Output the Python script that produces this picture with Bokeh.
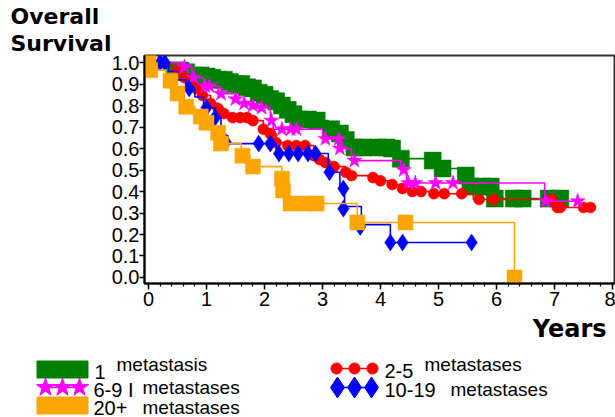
from bokeh.plotting import figure
from bokeh.models import Range1d, Title, FixedTicker, PrintfTickFormatter
from bokeh.layouts import column
from bokeh.embed import file_html
from bokeh.resources import INLINE
from bokeh.core.properties import value

# ---------------- data ----------------
# step curves: time (years) at which survival changes, survival after that time
g_t = [0, 0.4, 0.62, 0.75, 0.97, 1.07, 1.17, 1.37, 1.47, 1.65, 1.75, 1.85, 1.95, 2.05, 2.15,
       2.25, 2.35, 2.45, 2.55, 2.85, 3.1, 3.25, 3.35, 3.5, 4.15, 4.3, 4.85, 5.02, 5.42, 5.52, 5.95]
g_s = [1.0, 0.963, 0.955, 0.94, 0.935, 0.93, 0.92, 0.91, 0.90, 0.885, 0.88, 0.86, 0.85, 0.83, 0.82,
       0.80, 0.78, 0.76, 0.735, 0.73, 0.69, 0.67, 0.64, 0.605, 0.60, 0.553, 0.544, 0.507, 0.474, 0.423, 0.367]
g_end = 7.2
g_mt = [0.45, 0.55, 0.65, 0.8, 0.9, 1.0, 1.1, 1.2, 1.3, 1.4, 1.5, 1.6, 1.7, 1.8, 1.9, 2.0, 2.1, 2.2,
        2.3, 2.4, 2.5, 2.6, 2.75, 2.9, 3.15, 3.3, 3.4, 3.55, 3.7, 3.95, 4.1, 4.2, 4.35, 4.9, 5.07,
        5.47, 5.55, 5.75, 5.9, 5.97, 6.3, 6.45, 6.9, 7.1]
g_ms = [0.963, 0.963, 0.955, 0.94, 0.94, 0.935, 0.93, 0.92, 0.92, 0.91, 0.90, 0.90, 0.885, 0.88, 0.86,
        0.85, 0.83, 0.82, 0.80, 0.78, 0.76, 0.735, 0.735, 0.73, 0.69, 0.67, 0.64, 0.605, 0.605, 0.605,
        0.605, 0.60, 0.553, 0.544, 0.507, 0.474, 0.423, 0.423, 0.423, 0.367, 0.367, 0.367, 0.367, 0.367]

r_t = [0, 0.35, 0.45, 0.6, 0.7, 0.8, 0.93, 1.07, 1.2, 1.3, 1.45, 1.8, 1.98, 2.1, 2.2, 2.35, 2.85,
       2.95, 3.05, 3.2, 3.4, 3.5, 3.85, 4.0, 4.2, 4.38, 4.55, 4.85, 5.6, 7.0]
r_s = [1.0, 0.985, 0.963, 0.93, 0.907, 0.88, 0.847, 0.81, 0.786, 0.763, 0.744, 0.73, 0.69, 0.67, 0.628,
       0.614, 0.567, 0.549, 0.535, 0.516, 0.49, 0.474, 0.465, 0.45, 0.433, 0.414, 0.40, 0.39, 0.363, 0.326]
r_end = 7.7
r_mt = [0.5, 0.62, 0.72, 0.82, 0.93, 1.07, 1.2, 1.3, 1.45, 1.58, 1.7, 1.8, 1.98, 2.1, 2.2, 2.4, 2.55,
        2.7, 2.85, 2.95, 3.05, 3.2, 3.4, 3.5, 3.87, 4.0, 4.2, 4.38, 4.55, 4.7, 4.92, 5.1, 5.4, 5.7,
        5.95, 6.95, 7.05, 7.1, 7.5, 7.62]
r_ms = [0.963, 0.93, 0.907, 0.88, 0.847, 0.81, 0.786, 0.763, 0.744, 0.744, 0.744, 0.73, 0.69, 0.67,
        0.628, 0.614, 0.614, 0.614, 0.567, 0.549, 0.535, 0.516, 0.49, 0.474, 0.465, 0.45, 0.433, 0.414,
        0.40, 0.40, 0.39, 0.39, 0.39, 0.363, 0.363, 0.363, 0.326, 0.326, 0.326, 0.326]

m_t = [0, 0.6, 0.75, 0.95, 1.2, 1.55, 1.8, 2.1, 2.15, 3.0, 3.3, 3.5, 4.35, 4.45, 6.83]
m_s = [1.0, 0.98, 0.93, 0.89, 0.855, 0.81, 0.79, 0.73, 0.69, 0.645, 0.60, 0.544, 0.50, 0.44, 0.355]
m_end = 7.4
m_mt = [0.62, 0.78, 0.98, 1.05, 1.25, 1.5, 1.65, 1.8, 1.95, 2.12, 2.3, 2.45, 2.55, 3.05, 3.28, 3.3,
        3.55, 4.4, 4.48, 4.6, 4.95, 5.25, 6.85, 7.4]
m_ms = [0.98, 0.93, 0.89, 0.89, 0.855, 0.83, 0.81, 0.80, 0.79, 0.73, 0.69, 0.69, 0.69, 0.645, 0.645,
        0.60, 0.544, 0.50, 0.44, 0.44, 0.44, 0.44, 0.355, 0.355]

b_t = [0, 0.35, 0.5, 0.65, 0.8, 0.95, 1.15, 1.25, 1.3, 1.37, 2.2, 3.1, 3.3, 3.38, 3.67, 4.17]
b_s = [1.0, 0.96, 0.92, 0.88, 0.84, 0.79, 0.744, 0.70, 0.66, 0.623, 0.577, 0.49, 0.414, 0.33, 0.246, 0.163]
b_end = 5.57
b_mt = [0.2, 0.28, 0.7, 1.0, 1.15, 1.33, 1.9, 2.1, 2.25, 2.42, 2.58, 2.75, 2.88, 3.12, 3.36, 3.36,
        3.65, 4.17, 4.38, 5.57]
b_ms = [1.0, 1.0, 0.88, 0.79, 0.744, 0.63, 0.623, 0.623, 0.577, 0.577, 0.577, 0.577, 0.577, 0.49,
        0.414, 0.32, 0.235, 0.163, 0.163, 0.163]

o_t = [0, 0.05, 0.3, 0.45, 0.6, 0.8, 0.95, 1.1, 1.2, 1.6, 1.75, 2.3, 2.33, 2.4, 3.6, 6.31]
o_s = [1.0, 0.965, 0.916, 0.856, 0.795, 0.749, 0.72, 0.674, 0.623, 0.567, 0.516, 0.46, 0.405, 0.344, 0.256, 0.0]
o_end = 6.31
o_mt = [0.0, 0.03, 0.38, 0.5, 0.65, 0.9, 1.0, 1.2, 1.25, 1.62, 1.8, 2.3, 2.32, 2.45, 2.7, 2.9, 3.6,
        4.43, 6.31]
o_ms = [1.0, 0.965, 0.916, 0.856, 0.795, 0.749, 0.72, 0.674, 0.623, 0.567, 0.516, 0.46, 0.405, 0.344,
        0.344, 0.344, 0.256, 0.256, 0.0]

x_ticks = [0, 1, 2, 3, 4, 5, 6, 7, 8]
x_minor = [k / 5 for k in range(0, 41)]
y_ticks = [0.0, 0.1, 0.2, 0.3, 0.4, 0.5, 0.6, 0.7, 0.8, 0.9, 1.0]

legend_numbers = ["1", "2-5", "6-9 I", "10-19", "20+"]
legend_words = ["metastasis", "metastases", "metastases", "metastases", "metastases"]

GREEN, RED, MAGENTA, BLUE, ORANGE = "#008000", "#ff0000", "#ff00ff", "#0000ff", "#ffa500"
FONT = "Liberation Sans"
BOLD = "DejaVu Sans"

# ---------------- main plot ----------------
p = figure(width=615, height=350, output_backend="svg", toolbar_location=None,
           x_range=Range1d(-0.069, 8.034), y_range=Range1d(-0.028, 1.033),
           min_border_left=144, min_border_right=1, min_border_top=55, min_border_bottom=67)
p.frame_align = False
p.xgrid.visible = False
p.ygrid.visible = False
p.outline_line_color = "#333333"
p.outline_line_width = 2
p.background_fill_color = "white"
p.border_fill_color = "white"

p.xaxis.ticker = FixedTicker(ticks=x_ticks, minor_ticks=x_minor)
p.yaxis.ticker = FixedTicker(ticks=y_ticks, minor_ticks=[])
p.yaxis.formatter = PrintfTickFormatter(format="%.1f")
for ax in (p.xaxis, p.yaxis):
    ax.axis_line_color = "black"
    ax.axis_line_width = 2
    ax.major_tick_line_color = "black"
    ax.major_tick_line_width = 1.5
    ax.major_tick_in = 0
    ax.minor_tick_in = 0
    ax.major_label_text_font = FONT
    ax.major_label_text_font_size = "20px"
    ax.major_label_text_color = "black"
p.xaxis.major_tick_out = 6
p.xaxis.minor_tick_out = 3
p.xaxis.minor_tick_line_color = "black"
p.xaxis.minor_tick_line_width = 1.2
p.xaxis.major_label_standoff = 2
p.yaxis.major_tick_out = 5
p.yaxis.major_label_standoff = 0

series = [
    (g_t, g_s, g_end, g_mt, g_ms, GREEN, "square", 17),
    (r_t, r_s, r_end, r_mt, r_ms, RED, "circle", 11),
    (m_t, m_s, m_end, m_mt, m_ms, MAGENTA, "star", 16),
    (b_t, b_s, b_end, b_mt, b_ms, BLUE, "diamond", 17),
    (o_t, o_s, o_end, o_mt, o_ms, ORANGE, "square", 15),
]
for t, s, end, mt, ms, col, mk, sz in series:
    p.step(t + [end], s + [s[-1]], mode="after", line_color=col, line_width=1.6)
    p.scatter(mt, ms, marker=mk, size=sz, fill_color=col, line_color=col, line_width=0.5)

title_style = dict(align="left", offset=-134, standoff=0, text_font=BOLD,
                   text_font_style="bold", text_font_size="22px", text_color="black")
p.add_layout(Title(text="Survival", **title_style), "above")
p.add_layout(Title(text="Overall", **title_style), "above")
p.add_layout(Title(text="Years", align="right", offset=8, standoff=8, text_font=BOLD,
                   text_font_style="bold", text_font_size="24px", text_color="black"), "below")

# ---------------- legend panel ----------------
lg = figure(width=615, height=67, output_backend="svg", toolbar_location=None,
            x_range=Range1d(0, 615), y_range=Range1d(67, 0), min_border=0)
lg.frame_align = False
lg.axis.visible = False
lg.xgrid.visible = False
lg.ygrid.visible = False
lg.outline_line_color = None

# layout of legend entries: (marker x start, row y, number x, word x, word y offset)
entries = [
    (45, 19, 94, 116, -5, GREEN, "square", 17),
    (336, 18, 384, 424, -4, RED, "circle", 11),
    (45, 37, 93, 142, 0, MAGENTA, "star", 19),
    (337, 37, 384, 450, 2, BLUE, "diamond", 21),
    (45, 55, 93, 142, 2, ORANGE, "square", 17),
]
for i, (x0, y0, xn, xw, dy, col, mk, sz) in enumerate(entries):
    step = 17 if mk != "circle" else 18
    xs = [x0, x0 + step, x0 + 2 * step]
    lg.line(xs, [y0] * 3, line_color=col, line_width=1.6)
    lg.scatter(xs, [y0] * 3, marker=mk, size=sz, fill_color=col, line_color=col)
    lg.text([xn], [y0 + 2], text=[legend_numbers[i]], text_font=value(FONT),
            text_font_size="20px", text_baseline="middle", text_color="black")
    lg.text([xw], [y0 + dy], text=[legend_words[i]], text_font=value(FONT),
            text_font_size="19px", text_baseline="middle", text_color="black")

layout = column(p, lg, spacing=0)
open("out.html", "w").write(file_html(layout, INLINE))
